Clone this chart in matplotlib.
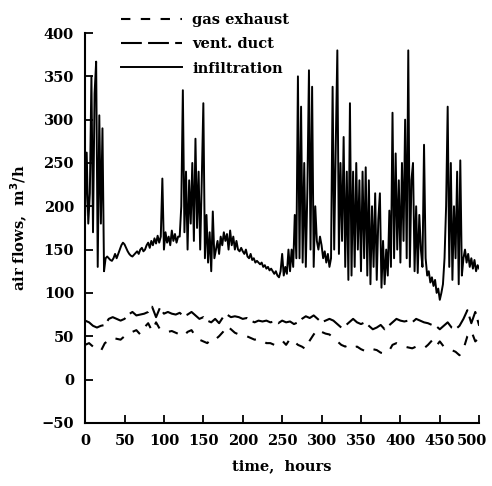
import numpy as np
import matplotlib
matplotlib.use("Agg")
import matplotlib.pyplot as plt
from matplotlib.transforms import ScaledTranslation

# infiltration, read every 2 hours
t_inf = np.arange(0, 501, 2)
infiltration = [
    190, 262, 180, 215, 350, 170, 330, 367, 130, 305,
    180, 290, 125, 140, 142, 140, 138, 137, 140, 145,
    140, 145, 150, 155, 158, 156, 152, 148, 145, 143,
    142, 144, 146, 148, 145, 150, 152, 148, 150, 155,
    158, 152, 160, 155, 163, 157, 166, 158, 165, 232,
    150, 170, 158, 165, 155, 172, 160, 168, 158, 165,
    165, 200, 334, 170, 240, 150, 230, 180, 250, 160,
    278, 175, 240, 150, 230, 319, 140, 190, 135, 170,
    125, 194, 140, 150, 160, 145, 165, 155, 170, 160,
    168, 150, 172, 155, 165, 150, 160, 150, 148, 152,
    148, 145, 150, 142, 140, 145, 138, 140, 135, 137,
    135, 133, 135, 130, 132, 128, 130, 126, 128, 125,
    122, 125, 120, 118, 125, 145, 120, 130, 122, 150,
    125, 150, 130, 190, 140, 350, 140, 315, 135, 250,
    130, 220, 357, 150, 338, 130, 200, 160, 150, 165,
    155, 140, 148, 135, 145, 130, 140, 338, 150, 270,
    380, 145, 250, 160, 280, 130, 240, 115, 319, 120,
    240, 130, 250, 150, 230, 125, 240, 140, 245, 120,
    230, 110, 200, 130, 215, 115, 185, 215, 106, 160,
    110, 150, 120, 195, 130, 308, 140, 261, 150, 230,
    135, 250, 160, 300, 140, 380, 130, 230, 250, 125,
    200, 123, 190, 150, 130, 271, 140, 120, 125, 112,
    118, 108, 115, 100, 105, 92, 100, 110, 140, 200,
    315, 130, 250, 115, 200, 140, 240, 110, 253, 120,
    140, 150, 135, 145, 130, 140, 128, 138, 125, 132,
    128,
]

# duct flows, read every 5 hours
t_duct = np.arange(0, 501, 5)
vent_duct = [
    68, 66, 62, 60, 62, 63, 70, 72, 70, 68,
    70, 75, 78, 74, 75, 76, 78, 84, 72, 83,
    76, 78, 76, 75, 77, 73, 75, 78, 74, 70,
    72, 68, 66, 70, 65, 72, 75, 72, 73, 72,
    70, 71, 68, 66, 68, 67, 68, 66, 67, 65,
    68, 66, 67, 64, 66, 70, 73, 71, 74, 70,
    66, 68, 70, 68, 64, 60, 62, 66, 70, 66,
    64, 66, 62, 58, 60, 63, 58, 62, 66, 70,
    68, 67, 68, 66, 70, 68, 66, 65, 63, 62,
    58, 62, 66, 60, 58, 62, 70, 80, 65, 78,
    62,
]
gas_exhaust = [
    40, 42, 38, 35, 33, 42, 45, 48, 47, 46,
    50, 52, 55, 57, 52, 60, 65, 56, 66, 58,
    56, 55, 56, 54, 52, 50, 55, 57, 50, 46,
    44, 42, 47, 46, 50, 55, 62, 58, 54, 52,
    50, 50, 48, 46, 47, 45, 42, 42, 40, 42,
    45, 40, 47, 44, 40, 38, 35, 45, 52, 58,
    55, 53, 52, 48, 44, 40, 38, 40, 37, 38,
    35, 33, 32, 35, 34, 31, 30, 32, 40, 42,
    40, 38, 37, 36, 38, 37, 36, 40, 45, 38,
    44, 38, 36, 34, 32, 28, 35, 50, 56, 44,
    48,
]

fs = 10.5
plt.rcParams['font.family'] = 'DejaVu Serif'
plt.rcParams['font.weight'] = 'bold'

fig = plt.figure(figsize=(4.92, 4.86), dpi=100)
ax = fig.add_axes([0.173, 0.130, 0.801, 0.802])

ax.plot(t_duct, gas_exhaust, color='black', lw=1.5, ls=(0, (4.5, 5)), label='gas exhaust')
ax.plot(t_duct, vent_duct, color='black', lw=1.5, ls=(0, (10, 3)), label='vent. duct')
ax.plot(t_inf, infiltration, color='black', lw=1.4, label='infiltration')

ax.set_xlim(0, 500)
ax.set_ylim(-50, 400)
ax.set_xticks(np.arange(0, 501, 50))
ax.set_yticks(np.arange(-50, 401, 50))
ax.spines['top'].set_visible(False)
ax.spines['right'].set_visible(False)
ax.spines['left'].set_linewidth(1.5)
ax.spines['bottom'].set_linewidth(1.5)
ax.tick_params(direction='in', length=6, width=1.3, labelsize=fs, pad=8)

# last x label would run off the right edge, nudge it left a little
lab = ax.get_xticklabels()[-1]
lab.set_transform(lab.get_transform() + ScaledTranslation(-5 / 72, 0, fig.dpi_scale_trans))

ax.set_xlabel('time,  hours', fontsize=fs, fontweight='bold', labelpad=8)
ax.set_ylabel('air flows,  m$^3$/h', fontsize=fs, fontweight='bold', labelpad=8)

fig.legend(loc='upper left', bbox_to_anchor=(0.245, 0.973), frameon=False,
           fontsize=fs, handlelength=4.2, handletextpad=0.7, labelspacing=0.7,
           borderpad=0, borderaxespad=0)

fig.savefig('out.png', dpi=100)
